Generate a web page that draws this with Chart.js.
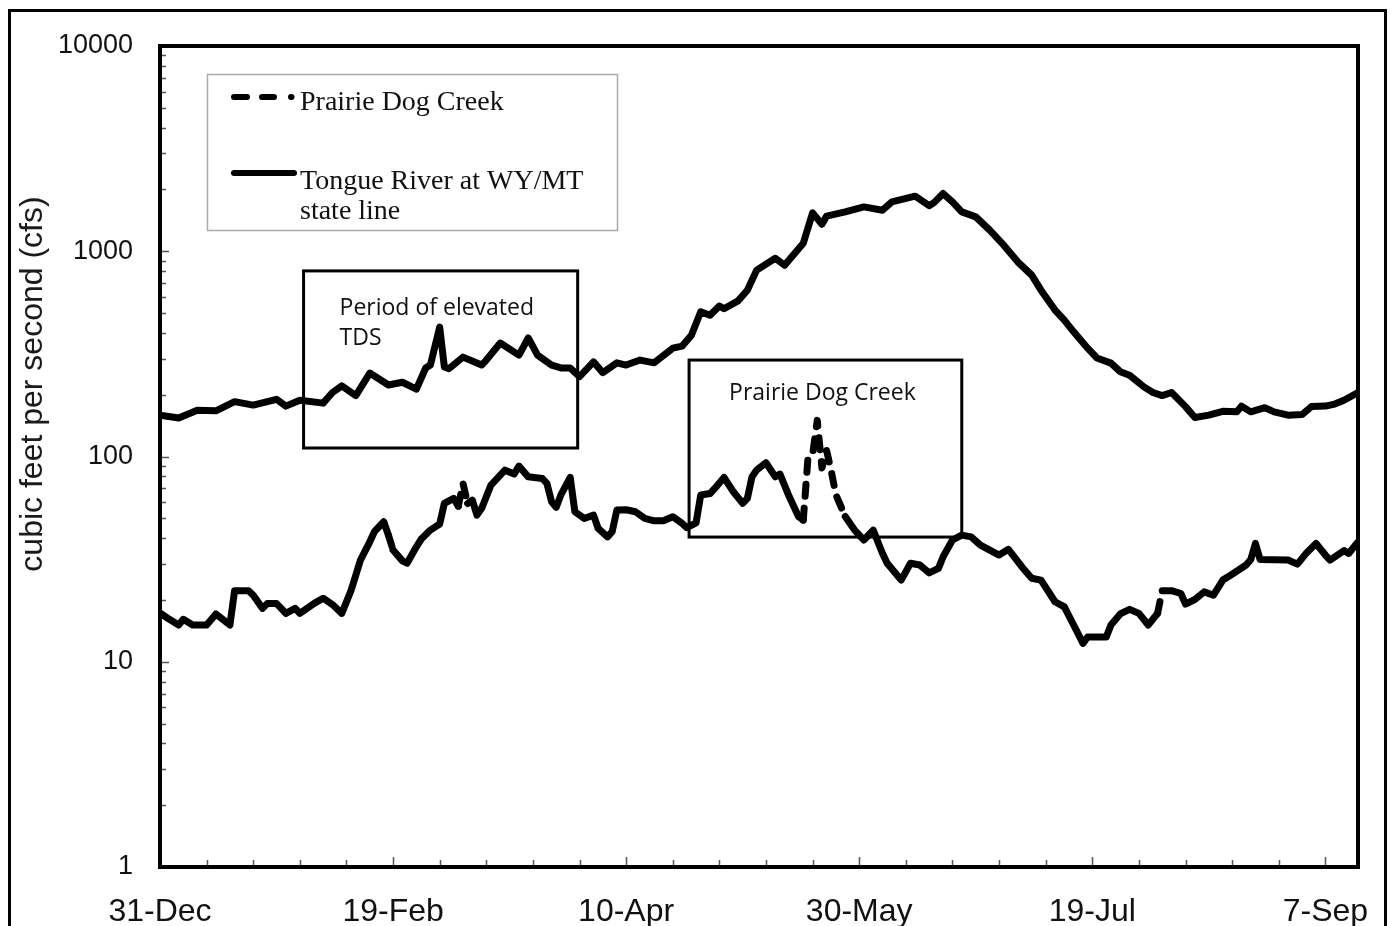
<!DOCTYPE html>
<html>
<head>
<meta charset="utf-8">
<title>Tongue River and Prairie Dog Creek flow</title>
<script src="https://cdn.jsdelivr.net/npm/chart.js@4.4.0/dist/chart.umd.min.js"></script>
<style>
  html, body { margin: 0; padding: 0; background: #fff; }
  #wrap { width: 1390px; height: 926px; }
</style>
</head>
<body>
<div id="wrap"><canvas id="chart" width="1390" height="926"></canvas></div>
<script>
// x values are days after 31-Dec, y values are cfs
const tongueDays = [0, 4, 8, 12, 16, 20, 25, 27, 30, 35, 37, 39, 42, 45, 49, 52, 55, 57, 58, 60,
  61, 62, 65, 69, 70, 73, 77, 79, 81, 84, 86, 88, 90, 93, 95, 98, 100, 103, 106, 110,
  112, 114, 116, 118, 120, 121, 124, 126, 128, 132, 134, 138, 140, 142, 143, 147, 151, 155, 157, 162,
  165, 166, 168, 170, 172, 175, 178, 181, 184, 187, 189, 192, 194, 196, 199, 201, 204, 206, 208, 211,
  213, 215, 217, 220, 222, 225, 228, 231, 232, 234, 237, 239, 242, 245, 247, 250, 252, 254, 257];
const tongueCfs = [159, 154, 168, 167, 185, 178, 190, 176, 188, 182, 205, 221, 198, 255, 223, 230, 213, 270, 279, 427,
  273, 268, 305, 279, 295, 357, 312, 378, 312, 279, 270, 270, 245, 289, 256, 286, 279, 295, 286, 337,
  345, 390, 507, 488, 541, 525, 573, 646, 809, 925, 855, 1095, 1538, 1355, 1483, 1555, 1645, 1585, 1741, 1855,
  1668, 1721, 1911, 1741, 1555, 1471, 1267, 1071, 888, 765, 646, 517, 462, 405, 337, 302, 285, 259, 249, 219,
  205, 198, 205, 175, 155, 159, 166, 165, 176, 165, 173, 165, 159, 160, 175, 176, 180, 188, 205];

const creekDays = [0, 2, 4, 5, 7, 10, 12, 15, 16, 19, 20, 22, 23, 25, 26, 27, 29, 30, 33, 35,
  37, 39, 41, 42, 43, 45, 46, 48, 49, 50, 52, 53, 55, 56, 58, 60, 61, 63, 64, 65,
  66, 67, 68, 69, 71, 73, 74, 76, 77, 79, 82, 83, 84, 85, 86, 88, 89, 91, 93, 94,
  96, 97, 98, 100, 102, 104, 106, 108, 110, 112, 113, 115, 116, 118, 119, 121, 123, 125, 126, 127,
  128, 130, 132, 133, 135, 137, 138, 139, 140, 141, 142, 143, 144, 145, 147, 149, 151, 153, 155, 156,
  159, 161, 163, 165, 167, 168, 170, 172, 174, 176, 180, 182, 185, 187, 189, 192, 194, 196, 198, 199,
  203, 204, 206, 208, 210, 212, 214, 215, 217, 219, 220, 222, 224, 226, 228, 230, 233, 234, 235, 236,
  242, 244, 246, 248, 250, 251, 254, 255, 257];
const creekCfs = [17.3, 16.1, 15.1, 16.1, 15.1, 15.1, 17.1, 15.1, 22.2, 22.2, 21.1, 18.2, 19.2, 19.2, 18.2, 17.2, 18.2, 17.2, 19.2, 20.4,
  19.0, 17.2, 22.3, 26.4, 31.3, 38.4, 43, 48.1, 41.4, 35.0, 31, 30.2, 36.3, 39.5, 43.8, 46.9, 59.1, 62.5, 57.3, 74,
  59, 61.3, 51.8, 55.9, 72.6, 81.2, 85.8, 82.1, 89.8, 79.6, 78.2, 74, 60.2, 56.5, 65, 79.1, 53.8, 49.9, 51.8, 44.6,
  40.6, 43, 54.8, 55, 53.8, 49.9, 48.6, 48.6, 50.9, 47.2, 45, 47.5, 64.9, 66, 69.9, 79.1, 67.3, 59.1, 62.5, 79.6,
  86, 93.2, 79.6, 82.1, 63.6, 50.9, 49, 98, 102, 150, 88, 107, 85, 65, 51, 43.8, 39.2, 43.8, 33.7, 30.2,
  25, 30.2, 29.6, 27.1, 28.5, 32.5, 39.2, 41.4, 40.6, 37, 33.1, 35.3, 28.8, 25.5, 25, 19.6, 18.5, 15.1, 12.3, 13.2,
  13.2, 15.1, 17.1, 18, 17.2, 15.1, 17.2, 22.2, 22.2, 21.5, 19.1, 20.1, 21.9, 21.1, 25, 26.7, 29.6, 31.5, 37.7, 31.5,
  31.3, 29.9, 34, 37.7, 33.1, 31.3, 34.8, 33.7, 38.4];

// stretches of the creek line where the dashes show
const creekDashRanges = [[49, 50], [64, 66], [138, 147], [214, 215]];

const labelDays = [0, 50, 100, 150, 200, 250];
const dateLabels = ["31-Dec", "19-Feb", "10-Apr", "30-May", "19-Jul", "7-Sep"];
const yDecades = [1, 10, 100, 1000, 10000];

// boxes in data units (days, cfs)
const notes = [
  {x0: 30.8, x1: 89.6, y0: 110, y1: 802, lines: ["Period of elevated", "TDS"], align: "left"},
  {x0: 113.5, x1: 172, y0: 40.5, y1: 295, lines: ["Prairie Dog Creek"], align: "center"}
];

const X_MAX = 257;

function isDashed(day0, day1) {
  return creekDashRanges.some(r => day0 >= r[0] && day1 <= r[1]);
}

const decor = {
  id: "decor",
  beforeDraw(chart) {
    const c = chart.ctx;
    c.save();
    c.fillStyle = "#fff";
    c.fillRect(0, 0, chart.width, chart.height);
    c.strokeStyle = "#000";
    c.lineWidth = 3;
    c.strokeRect(9.5, 10.5, 1376, 940);
    c.restore();
  },
  afterDatasetsDraw(chart) {
    const c = chart.ctx;
    const a = chart.chartArea;
    const xs = chart.scales.x;
    const ys = chart.scales.y;
    c.save();

    // inward tick marks
    c.strokeStyle = "#555";
    c.lineWidth = 1.5;
    c.beginPath();
    for (let d = 10; d < X_MAX; d += 10) {
      const px = Math.round(xs.getPixelForValue(d)) + 0.5;
      const len = d % 50 === 0 ? 10 : 7;
      c.moveTo(px, a.bottom);
      c.lineTo(px, a.bottom - len);
    }
    yDecades.slice(0, -1).forEach(dec => {
      for (let m = 2; m <= 9; m++) {
        const py = Math.round(ys.getPixelForValue(dec * m)) + 0.5;
        c.moveTo(a.left, py);
        c.lineTo(a.left + 6, py);
      }
    });
    yDecades.slice(1, -1).forEach(v => {
      const py = Math.round(ys.getPixelForValue(v)) + 0.5;
      c.moveTo(a.left, py);
      c.lineTo(a.left + 9, py);
    });
    c.stroke();

    // plot frame
    c.strokeStyle = "#000";
    c.lineWidth = 4;
    c.strokeRect(a.left, a.top, a.right - a.left, a.bottom - a.top);

    // note boxes
    c.lineWidth = 3;
    c.fillStyle = "#111";
    c.font = '23px "Open Sans", sans-serif';
    c.textBaseline = "alphabetic";
    notes.forEach(n => {
      const l = xs.getPixelForValue(n.x0), r = xs.getPixelForValue(n.x1);
      const t = ys.getPixelForValue(n.y1), b = ys.getPixelForValue(n.y0);
      c.strokeRect(l, t, r - l, b - t);
      n.lines.forEach((txt, i) => {
        if (n.align === "center") {
          c.textAlign = "center";
          c.fillText(txt, (l + r) / 2 - 3, t + 40 + i * 30);
        } else {
          c.textAlign = "left";
          c.fillText(txt, l + 36, t + 44 + i * 30);
        }
      });
    });

    // legend
    c.strokeStyle = "#aaa";
    c.lineWidth = 1.5;
    c.strokeRect(207.5, 74.5, 410, 156);
    c.strokeStyle = "#000";
    c.lineWidth = 6;
    c.lineCap = "round";
    c.beginPath();
    c.moveTo(234, 97); c.lineTo(247, 97);
    c.moveTo(262, 97); c.lineTo(274, 97);
    c.moveTo(291, 97); c.lineTo(291.5, 97);
    c.stroke();
    c.beginPath();
    c.moveTo(234, 173); c.lineTo(294, 173);
    c.stroke();

    c.fillStyle = "#111";
    c.font = '28px "Liberation Serif", "Times New Roman", serif';
    c.textAlign = "left";
    const ds = chart.data.datasets;
    c.fillText(ds[0].label, 300, 110);
    const words = ds[1].label.split(" ");
    let line = "", rows = [];
    words.forEach(w => {
      const test = line ? line + " " + w : w;
      if (c.measureText(test).width > 300 && line) { rows.push(line); line = w; }
      else line = test;
    });
    rows.push(line);
    rows.forEach((r, i) => c.fillText(r, 300, 189 + i * 30));

    // y axis title
    c.translate(33, 384);
    c.rotate(-Math.PI / 2);
    c.textAlign = "center";
    c.textBaseline = "middle";
    c.font = '32px "Liberation Sans", Arial, sans-serif';
    c.fillStyle = "#1a1a1a";
    c.fillText("cubic feet per second (cfs)", 0, 0);
    c.restore();
  }
};

new Chart(document.getElementById("chart"), {
  type: "line",
  data: {
    datasets: [
      {
        label: "Prairie Dog Creek",
        data: creekDays.map((d, i) => ({x: d, y: creekCfs[i]})),
        borderColor: "#000",
        borderWidth: 7,
        borderJoinStyle: "round",
        borderCapStyle: "round",
        pointRadius: 0,
        tension: 0,
        segment: {
          borderDash: ctx => isDashed(creekDays[ctx.p0DataIndex], creekDays[ctx.p1DataIndex]) ? [12, 12] : undefined
        }
      },
      {
        label: "Tongue River at WY/MT state line",
        data: tongueDays.map((d, i) => ({x: d, y: tongueCfs[i]})),
        borderColor: "#000",
        borderWidth: 7,
        borderJoinStyle: "round",
        borderCapStyle: "round",
        pointRadius: 0,
        tension: 0
      }
    ]
  },
  options: {
    responsive: false,
    animation: false,
    devicePixelRatio: 1,
    layout: {padding: {top: 46, right: 32, bottom: 0, left: 0}},
    plugins: {
      legend: {display: false},
      tooltip: {enabled: false}
    },
    scales: {
      x: {
        type: "linear",
        min: 0,
        max: X_MAX,
        grid: {display: false, drawTicks: false},
        border: {display: false},
        afterBuildTicks: scale => { scale.ticks = labelDays.map(v => ({value: v})); },
        afterFit: scale => {
          scale.height = 59;
          scale.paddingLeft = 0;
          scale.paddingRight = 0;
        },
        ticks: {
          autoSkip: false,
          maxRotation: 0,
          padding: 26,
          color: "#111",
          font: {family: "'Liberation Sans', Arial, sans-serif", size: 32},
          callback: v => dateLabels[labelDays.indexOf(v)]
        }
      },
      y: {
        type: "logarithmic",
        min: 1,
        max: 10000,
        grid: {display: false, drawTicks: false},
        border: {display: false},
        afterBuildTicks: scale => { scale.ticks = yDecades.map(v => ({value: v})); },
        afterFit: scale => {
          scale.width = 160;
          scale.paddingTop = 0;
          scale.paddingBottom = 0;
        },
        ticks: {
          padding: 27,
          color: "#111",
          font: {family: "'Liberation Sans', Arial, sans-serif", size: 27},
          callback: v => String(v)
        }
      }
    }
  },
  plugins: [decor]
});
</script>
</body>
</html>
